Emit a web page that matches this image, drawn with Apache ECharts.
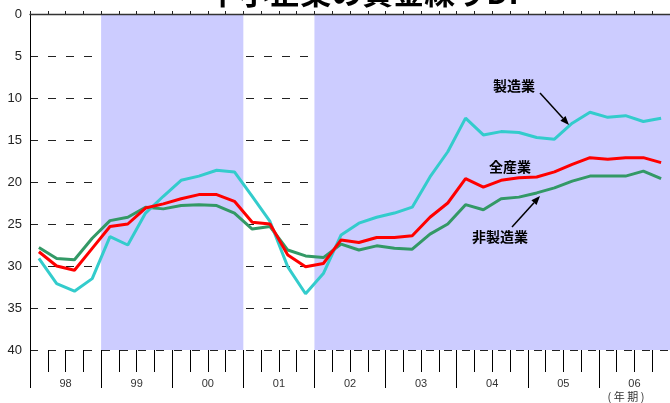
<!DOCTYPE html>
<html>
<head>
<meta charset="utf-8">
<script src="https://cdn.jsdelivr.net/npm/echarts@6/dist/echarts.min.js"></script>
<style>
  html, body { margin: 0; padding: 0; background: #fff; }
  #chart { width: 670px; height: 403px; }
</style>
</head>
<body>
<div id="chart"></div>
<script>
// Fiscal years shown on the axis (two-digit labels) and quarters within each year
const years = ['98', '99', '00', '01', '02', '03', '04', '05', '06'];
const quarters = ['Q1', 'Q2', 'Q3', 'Q4'];
const categories = years.flatMap(y => quarters.map(q => y + q));

// Y-axis ticks (axis is drawn inverted: 0 at top)
const yTicks = [0, 5, 10, 15, 20, 25, 30, 35, 40];

// 製造業
const manufacturing = [
  29.1, 32.1, 33.0, 31.5, 26.5, 27.5, 23.7, 21.7, 19.8, 19.3,
  18.6, 18.8, 21.7, 24.7, 30.1, 33.3, 30.9, 26.3, 24.9, 24.2,
  23.7, 23.0, 19.4, 16.4, 12.4, 14.4, 14.0, 14.1, 14.7, 14.9,
  13.0, 11.7, 12.3, 12.1, 12.8, 12.4
];
// 全産業
const allIndustries = [
  28.3, 30.0, 30.5, 27.9, 25.3, 25.0, 23.1, 22.6, 22.0, 21.5,
  21.5, 22.3, 24.8, 25.0, 28.7, 30.1, 29.7, 26.9, 27.2, 26.6,
  26.6, 26.4, 24.2, 22.5, 19.6, 20.6, 19.8, 19.5, 19.4, 18.8,
  17.9, 17.1, 17.3, 17.1, 17.1, 17.7
];
// 非製造業
const nonManufacturing = [
  27.8, 29.1, 29.25, 26.7, 24.6, 24.2, 23.0, 23.2, 22.8, 22.7,
  22.8, 23.7, 25.6, 25.3, 28.1, 28.8, 29.0, 27.4, 28.1, 27.6,
  27.9, 28.0, 26.2, 25.0, 22.7, 23.3, 22.0, 21.8, 21.3, 20.7,
  19.9, 19.3, 19.3, 19.3, 18.7, 19.6
];

// Shaded periods (first and last quarter, inclusive)
const shadedPeriods = [['99Q1', '00Q4'], ['02Q1', '06Q4']];

const yMin = yTicks[0];
const yMax = yTicks[yTicks.length - 1];
const shadeData = shadedPeriods.map(([a, b]) => [categories.indexOf(a), categories.indexOf(b), yMin, yMax]);

const cjk = '"Noto Sans CJK JP", "Noto Sans CJK SC", sans-serif';
const latin = '"Liberation Sans", Arial, sans-serif';

function arrow(x1, y1, x2, y2) {
  const ang = Math.atan2(y2 - y1, x2 - x1);
  const len = 9, half = 3.5;
  const bx = x2 - len * Math.cos(ang), by = y2 - len * Math.sin(ang);
  const px = -Math.sin(ang) * half, py = Math.cos(ang) * half;
  return [
    { type: 'line', z: 10, shape: { x1, y1, x2: bx, y2: by }, style: { stroke: '#000', lineWidth: 1.5 } },
    { type: 'polygon', z: 10, shape: { points: [[x2, y2], [bx + px, by + py], [bx - px, by - py]] }, style: { fill: '#000' } }
  ];
}

function label(text, x, y) {
  return {
    type: 'text', z: 10, x, y,
    style: { text, font: 'bold 14px ' + cjk, fill: '#000', align: 'center', verticalAlign: 'middle' }
  };
}

// Shaded band covering whole quarters from the first to the last of a period
function renderShade(params, api) {
  const band = api.size([1, 0])[0];
  const p0 = api.coord([api.value(0), api.value(2)]);
  const p1 = api.coord([api.value(1), api.value(3)]);
  return {
    type: 'rect',
    shape: {
      x: p0[0] - band / 2,
      y: Math.min(p0[1], p1[1]),
      width: p1[0] - p0[0] + band,
      height: Math.abs(p1[1] - p0[1])
    },
    style: { fill: '#CCCCFF' }
  };
}

const gridBox = { left: 30, top: 14, right: -8, bottom: 53, containLabel: false };

const chart = echarts.init(document.getElementById('chart'), null, { renderer: 'canvas' });

chart.setOption({
  animation: false,
  backgroundColor: '#fff',
  grid: [Object.assign({}, gridBox), Object.assign({}, gridBox)],
  xAxis: [
    { // quarter ticks along the bottom
      gridIndex: 0, type: 'category', data: categories, position: 'bottom', boundaryGap: true,
      axisLine: { show: false, onZero: false },
      axisTick: { show: true, interval: 0, length: 22, lineStyle: { color: '#000', width: 1 } },
      axisLabel: { show: false },
      splitLine: { show: false }
    },
    { // frame along the top with small quarter ticks
      gridIndex: 0, type: 'category', data: categories, position: 'top', boundaryGap: true, z: 5,
      axisLine: { show: true, onZero: false, lineStyle: { color: '#333', width: 1.3 } },
      axisTick: { show: true, inside: false, interval: 0, length: 3, lineStyle: { color: '#222' } },
      axisLabel: { show: false },
      splitLine: { show: false }
    },
    { // fiscal-year labels with longer separators
      gridIndex: 1, type: 'category', data: years, position: 'bottom', boundaryGap: true,
      axisLine: { show: false, onZero: false },
      axisTick: { show: true, interval: 0, length: 38, lineStyle: { color: '#000', width: 1 } },
      axisLabel: { show: true, interval: 0, margin: 28, fontSize: 11, color: '#333', fontFamily: latin },
      splitLine: { show: false }
    }
  ],
  yAxis: [
    {
      gridIndex: 0, type: 'value', inverse: true, min: yMin, max: yMax, interval: 5,
      axisLine: { show: true, lineStyle: { color: '#000', width: 1 } },
      axisTick: { show: false },
      axisLabel: { fontSize: 13, color: '#222', margin: 8, fontFamily: latin },
      splitLine: { show: true, lineStyle: { color: '#222', type: [8, 10], width: 1 } }
    },
    {
      gridIndex: 1, type: 'value', min: yMin, max: yMax, show: false
    }
  ],
  series: [
    {
      name: 'shade', type: 'custom', xAxisIndex: 0, yAxisIndex: 0,
      data: shadeData, encode: { x: [0, 1], y: [2, 3] },
      renderItem: renderShade, silent: true, z: 1
    },
    {
      name: '非製造業', type: 'line', xAxisIndex: 0, yAxisIndex: 0, data: nonManufacturing,
      symbol: 'none', z: 3, lineStyle: { color: '#339966', width: 3 }
    },
    {
      name: '製造業', type: 'line', xAxisIndex: 0, yAxisIndex: 0, data: manufacturing,
      symbol: 'none', z: 3, lineStyle: { color: '#33CCCC', width: 3 }
    },
    {
      name: '全産業', type: 'line', xAxisIndex: 0, yAxisIndex: 0, data: allIndustries,
      symbol: 'none', z: 4, lineStyle: { color: '#FF0000', width: 3 }
    }
  ],
  graphic: [
    {
      type: 'text', z: 10, x: 363, y: 8,
      style: { text: '中小企業の資金繰りDI', font: 'bold 31px ' + cjk, fill: '#000', align: 'center', verticalAlign: 'bottom' }
    },
    {
      type: 'text', z: 10, x: 626, y: 397,
      style: { text: '( 年 期 )', font: '11px ' + cjk, fill: '#333', align: 'center', verticalAlign: 'middle' }
    },
    label('製造業', 514, 86),
    label('全産業', 510, 167),
    label('非製造業', 500, 237),
    ...arrow(540, 93, 569, 125),
    ...arrow(512, 227, 540, 196)
  ]
});
</script>
</body>
</html>
